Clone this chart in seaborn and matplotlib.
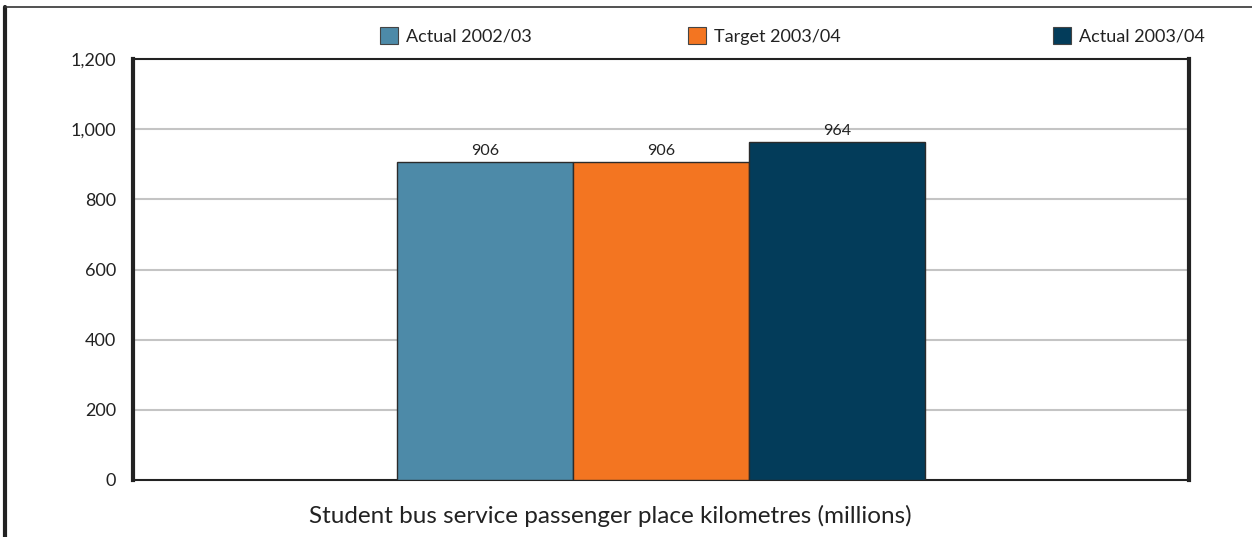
import matplotlib
matplotlib.use("Agg")
import matplotlib.pyplot as plt
from matplotlib.lines import Line2D
from matplotlib.patches import Patch
from matplotlib import font_manager
import seaborn as sns
import pandas as pd

# Data
category = ["Student bus service passenger place kilometres (millions)"]
series = ["Actual 2002/03", "Target 2003/04", "Actual 2003/04"]
values = [906, 906, 964]
colors = ["#4d8aa8", "#f37521", "#033c5a"]
yticks = [0, 200, 400, 600, 800, 1000, 1200]

df = pd.DataFrame({"cat": category * len(series), "series": series, "value": values})

sns.set_theme(style="white")
names = {f.name for f in font_manager.fontManager.ttflist}
base_font = "Lato" if "Lato" in names else "DejaVu Sans"
plt.rcParams["font.family"] = [base_font, "DejaVu Sans"]

fig = plt.figure(figsize=(12.52, 5.37), dpi=100)
ax = fig.add_axes([133 / 1252, 57 / 537, (1189 - 133) / 1252, (480 - 59) / 537])

sns.barplot(data=df, x="cat", y="value", hue="series", hue_order=series,
            palette=colors, width=0.5, dodge=True, edgecolor="#2b2b2b",
            linewidth=1.0, saturation=1, ax=ax, legend=False, zorder=3)

ax.set_xlim(-0.5, 0.5)
ax.set_ylim(0, 1200)
ax.set_yticks(yticks)
ax.set_yticklabels([f"{v:,}" for v in yticks], fontsize=13, color="#222222")
ax.tick_params(axis="y", length=0, pad=12)
ax.tick_params(axis="x", length=0)
ax.set_xticks([])
ax.set_xlabel(category[0], fontsize=17.5, color="#222222")
ax.xaxis.label.set_va("center")
ax.xaxis.set_label_coords(0.452, -0.085)
ax.set_ylabel("")
for v in yticks[1:-1]:
    ax.axhline(v, color="#c4c4c4", linewidth=1.5, zorder=1)

for side, lw in (("left", 3.0), ("right", 3.0), ("top", 1.5), ("bottom", 1.5)):
    ax.spines[side].set_visible(True)
    ax.spines[side].set_color("#222222")
    ax.spines[side].set_linewidth(lw)

for cont in ax.containers:
    ax.bar_label(cont, fmt="%d", padding=3, fontsize=11.5, color="#222222")

# Outer frame: left and top rules
fig.add_artist(Line2D([5 / 1252, 5 / 1252], [0, 1 - 7 / 537], transform=fig.transFigure,
                      color="#222222", linewidth=3))
fig.add_artist(Line2D([5 / 1252, 1], [1 - 7 / 537, 1 - 7 / 537], transform=fig.transFigure,
                      color="#333333", linewidth=1.2))

# Legend entries spread across the top
legend_x = [380 / 1252, 688 / 1252, 1053 / 1252]
for name, col, lx in zip(series, colors, legend_x):
    leg = fig.legend(handles=[Patch(facecolor=col, edgecolor="#444444", linewidth=0.8)],
                     labels=[name], loc="center left", bbox_to_anchor=(lx, 1 - 36 / 537),
                     frameon=False, handlelength=1.0, handleheight=1.0, handletextpad=0.45,
                     borderpad=0, borderaxespad=0, prop={"size": 13})
    for t in leg.get_texts():
        t.set_color("#222222")

fig.savefig("out.png", dpi=100, facecolor="white")
